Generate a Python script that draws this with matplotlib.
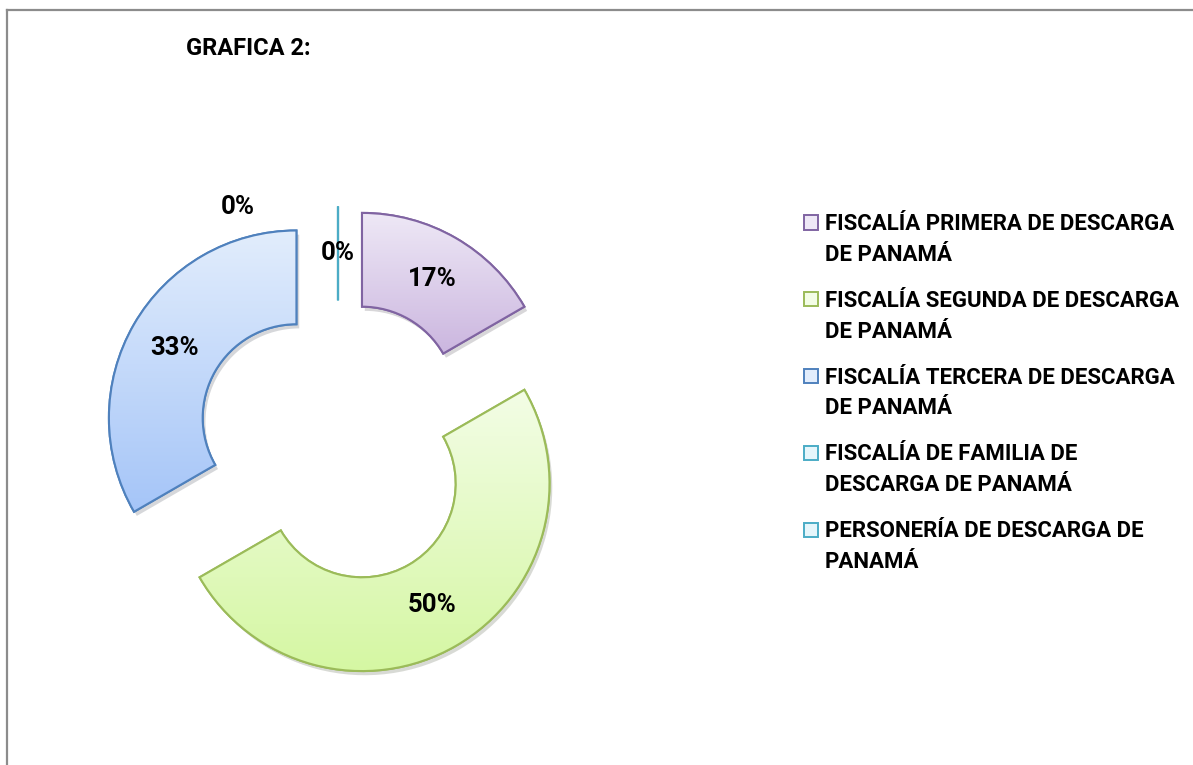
import numpy as np
import matplotlib
matplotlib.use("Agg")
import matplotlib.pyplot as plt
from matplotlib.colors import LinearSegmentedColormap
from matplotlib.patches import PathPatch, Rectangle
from matplotlib.lines import Line2D
import matplotlib.patheffects as pe

plt.rcParams['font.family'] = ['Roboto', 'DejaVu Sans']

# data
categories = ["FISCALÍA PRIMERA DE DESCARGA\nDE PANAMÁ",
              "FISCALÍA SEGUNDA DE DESCARGA\nDE PANAMÁ",
              "FISCALÍA TERCERA DE DESCARGA\nDE PANAMÁ",
              "FISCALÍA DE FAMILIA DE\nDESCARGA DE PANAMÁ",
              "PERSONERÍA DE DESCARGA DE\nPANAMÁ"]
values = [1, 3, 2, 0, 0]
title = "GRAFICA 2:"

# styles: (top colour, bottom colour, edge colour)
top_cols = ["#eee8f6", "#f3fde6", "#e2edfc", "#e6f6fb", "#e6f6fb"]
bot_cols = ["#cbb6df", "#d5f7a3", "#a5c5f8", "#9fdcec", "#9fdcec"]
edge_cols = ["#8064a2", "#9bbb59", "#4f81bd", "#4bacc6", "#4bacc6"]

W, H = 1193, 765
fig = plt.figure(figsize=(W / 100, H / 100), dpi=100)

# pie axes: centre at (338, 442) px, radius 187.5 px
R = 187.5
L = 300
ax = fig.add_axes([(338 - L) / W, (H - 442 - L) / H, 2 * L / W, 2 * L / H])

wedges, texts, autotexts = ax.pie(
    values, startangle=90, counterclock=False, radius=1,
    explode=[48 / R] * len(values), autopct='%1.0f%%', pctdistance=0.75,
    wedgeprops=dict(width=0.5, linewidth=1.5),
    textprops=dict(fontsize=18.5, fontweight='bold', color='black'))

for i, w in enumerate(wedges):
    w.set_facecolor(bot_cols[i])
    w.set_edgecolor(edge_cols[i])
    w.set_zorder(1)
    if values[i] > 0:
        w.set_path_effects([pe.SimplePatchShadow(offset=(2, -3), alpha=0.2), pe.Normal()])
        bb = w.get_path().get_extents()
        cmap = LinearSegmentedColormap.from_list("g%d" % i, [bot_cols[i], top_cols[i]])
        grad = np.linspace(0, 1, 256).reshape(-1, 1)
        im = ax.imshow(grad, cmap=cmap, origin='lower', aspect='auto',
                       extent=(bb.x0, bb.x1, bb.y0, bb.y1), zorder=2)
        im.set_clip_path(w)
    ax.add_patch(PathPatch(w.get_path(), facecolor='none', edgecolor=edge_cols[i],
                           linewidth=1.5, zorder=3))

for t in autotexts:
    t.set_zorder(5)
# second zero label is pushed outside, as in the source chart
autotexts[4].set_position(((238 - 338) / R, (442 - 207) / R))

ax.set_xlim(-L / R, L / R)
ax.set_ylim(-L / R, L / R)
ax.axis('off')

# title
fig.text(186 / W, 1 - 55 / H, title, fontsize=17, fontweight='bold',
         ha='left', va='baseline')

# legend
for i, lab in enumerate(categories):
    base = 230 + i * 76.75
    fig.add_artist(Rectangle(((804) / W, 1 - (base - 0.5) / H), 14 / W, 14 / H,
                             transform=fig.transFigure,
                             facecolor=top_cols[i], edgecolor=edge_cols[i], linewidth=1.4))
    for j, line in enumerate(lab.split("\n")):
        fig.text(825 / W, 1 - (base + j * 31) / H, line, fontsize=16,
                 fontweight='bold', ha='left', va='baseline')

# frame
fig.add_artist(Line2D([7 / W, 7 / W], [0, 1 - 10 / H], color='#8c8c8c', lw=1.6,
                      transform=fig.transFigure))
fig.add_artist(Line2D([7 / W, 1], [1 - 10 / H, 1 - 10 / H], color='#8c8c8c', lw=1.6,
                      transform=fig.transFigure))

fig.savefig("out.png", dpi=100)
